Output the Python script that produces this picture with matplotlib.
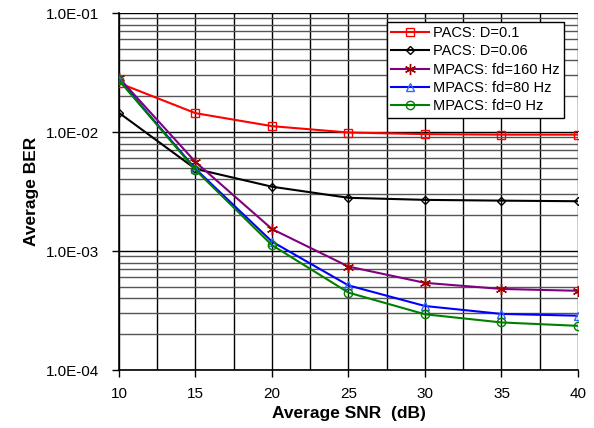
"""Average BER vs SNR for PACS / MPACS receivers."""

import numpy as np
import matplotlib
matplotlib.use("Agg")
import matplotlib.pyplot as plt
from matplotlib.ticker import FixedLocator, FuncFormatter, LogLocator, NullFormatter

plt.rcParams["font.family"] = ["Liberation Sans", "DejaVu Sans"]

snr_db = [10, 15, 20, 25, 30, 35, 40]

ber_pacs_d01 = [0.0258, 0.0144, 0.0112, 0.0099, 0.0096, 0.0095, 0.0095]
ber_pacs_d006 = [0.0145, 0.0049, 0.00347, 0.0028, 0.00269, 0.00265, 0.00262]
ber_mpacs_160 = [0.0285, 0.0056, 0.00153, 0.00074, 0.00054, 0.00048, 0.000463]
ber_mpacs_80 = [0.0275, 0.0049, 0.00120, 0.000514, 0.000345, 0.000296, 0.000286]
ber_mpacs_0 = [0.0272, 0.0048, 0.00112, 0.000447, 0.000294, 0.000251, 0.000235]

series = [
    ("PACS: D=0.1", ber_pacs_d01, "#ff0000", "s", "#ff0000", 6),
    ("PACS: D=0.06", ber_pacs_d006, "#000000", "D", "#000000", 4),
    ("MPACS: fd=160 Hz", ber_mpacs_160, "#800080", (6, 2, 0), "#a00000", 8),
    ("MPACS: fd=80 Hz", ber_mpacs_80, "#0000ff", "^", "#3366ff", 6),
    ("MPACS: fd=0 Hz", ber_mpacs_0, "#008000", "o", "#008000", 6),
]

fig = plt.figure(figsize=(5.94, 4.28), dpi=100)
ax = fig.add_axes([0.2003, 0.1355, 0.7727, 0.8341])

for name, ber, color, marker, mcolor, ms in series:
    ax.plot(snr_db, ber, color=color, linewidth=1.5, marker=marker,
            markersize=ms, markerfacecolor="none", markeredgecolor=mcolor,
            markeredgewidth=1.0, label=name, zorder=3)

ax.set_yscale("log")
ax.set_xlim(10, 40)
ax.set_ylim(1e-4, 1e-1)

# grid: decades + minor log lines, vertical every 2.5 dB
ax.xaxis.set_major_locator(FixedLocator([10, 15, 20, 25, 30, 35, 40]))
ax.xaxis.set_minor_locator(FixedLocator(np.arange(12.5, 40, 5)))
ax.yaxis.set_major_locator(LogLocator(base=10))
ax.yaxis.set_minor_locator(LogLocator(base=10, subs=np.arange(2, 10)))
ax.yaxis.set_minor_formatter(NullFormatter())
ax.yaxis.set_major_formatter(FuncFormatter(lambda v, p: f"{v:.1E}"))

ax.grid(True, which="major", color="black", linewidth=1.0, zorder=1)
ax.grid(True, which="minor", axis="y", color="#555555", linewidth=1.0)
ax.grid(True, which="minor", axis="x", color="black", linewidth=1.0)

ax.tick_params(which="major", direction="out", length=5, width=1,
               labelsize=11)
ax.tick_params(axis="y", which="major", pad=9)
ax.tick_params(axis="x", which="major", pad=7)
ax.tick_params(which="minor", length=0)

for side in ("top", "right"):
    ax.spines[side].set_visible(False)
for side in ("left", "bottom"):
    ax.spines[side].set_linewidth(1.2)

ax.set_xlabel("Average SNR  (dB)", fontsize=12.5, fontweight="bold", labelpad=4)
ax.set_ylabel("Average BER", fontsize=12.5, fontweight="bold", labelpad=5)

leg = ax.legend(loc="upper right", bbox_to_anchor=(0.97, 0.976), fontsize=10.5,
                fancybox=False, framealpha=1, edgecolor="black",
                handlelength=2.6, handletextpad=0.3, borderpad=0.3,
                labelspacing=0.3, borderaxespad=0)
leg.get_frame().set_linewidth(1.0)

fig.savefig("out.png", dpi=100)
plt.close(fig)
